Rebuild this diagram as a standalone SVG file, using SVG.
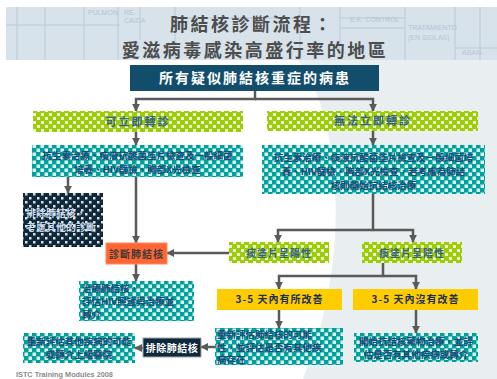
<svg xmlns="http://www.w3.org/2000/svg" width="497" height="379" viewBox="0 0 497 379">
<defs>
<style>
.cjk{font-family:"Noto Sans CJK TC","Noto Sans CJK SC",sans-serif;}
.title{font-size:18px;font-weight:bold;fill:#4d4d4d;letter-spacing:2.5px;text-anchor:middle;}
.box-t{font-size:9.5px;fill:#1d4a78;font-weight:bold;}
.grn-t{font-size:11px;fill:#35628c;font-weight:bold;letter-spacing:2px;text-anchor:middle;}
.yel-t{font-size:10px;fill:#1a2e5a;font-weight:bold;letter-spacing:1px;text-anchor:middle;}
.conn{fill:none;stroke:#5a5a5a;stroke-width:2.5;marker-end:url(#arr);}
.grid{stroke:#b9cadb;stroke-width:1;fill:none;}
.bgtxt{font-family:"Liberation Sans",sans-serif;font-size:7px;fill:#b3c4d4;}
</style>
<marker id="arr" viewBox="0 0 10 10" refX="9" refY="5" markerWidth="3.2" markerHeight="3.2" orient="auto">
<path d="M0,0 L10,5 L0,10 Z" fill="#5a5a5a"/>
</marker>
<pattern id="pTeal" width="8" height="8" patternUnits="userSpaceOnUse">
<rect width="8" height="8" fill="#00a09c"/>
<rect x="0.5" y="0.5" width="3.5" height="3.5" fill="#ffffff" opacity="0.85"/>
<rect x="4.5" y="4.5" width="3.5" height="3.5" fill="#ffffff" opacity="0.85"/>
</pattern>
<pattern id="pGreen" width="8" height="8" patternUnits="userSpaceOnUse">
<rect width="8" height="8" fill="#9ccc0a"/>
<rect x="1" y="1" width="3" height="3" fill="#ffffff" opacity="0.8"/>
<rect x="5" y="5" width="3" height="3" fill="#ffffff" opacity="0.8"/>
</pattern>
<pattern id="pDark" width="8" height="8" patternUnits="userSpaceOnUse">
<rect width="8" height="8" fill="#10293a"/>
<rect x="1" y="1" width="2.5" height="2.5" fill="#ffffff" opacity="0.85"/>
<rect x="5" y="5" width="2.5" height="2.5" fill="#ffffff" opacity="0.85"/>
</pattern>
</defs>

<!-- background -->
<rect width="497" height="379" fill="#ffffff"/>
<path d="M298,60 C338,110 356,250 303,379 L497,379 L497,60 Z" fill="#e9eef0"/>

<!-- title band -->
<g id="title-band">
<rect x="6" y="7" width="491" height="53" fill="#d7e2eb"/>
<path class="grid" d="M17,7 V60 M45,7 V60 M84,7 V60 M118,7 V60 M140,7 V40 M175,7 V60 M300,7 V60 M340,7 V60 M405,7 V60 M455,7 V60 M480,7 V60 M6,25 H120 M175,18 H300 M340,28 H405 M340,18 H405 M455,48 H497"/>
<text class="bgtxt" x="88" y="15">PULMON</text>
<text class="bgtxt" x="124" y="15">RE-</text>
<text class="bgtxt" x="124" y="23">CAIDA</text>
<text class="bgtxt" x="350" y="22">E.K. CONTROL</text>
<text class="bgtxt" x="408" y="30">TRATAMIENTO</text>
<text class="bgtxt" x="408" y="40">(EN SIGLAS)</text>
<text class="bgtxt" x="462" y="55">ABAN-</text>
<text class="title cjk" x="252" y="31">肺結核診斷流程：</text>
<text class="title cjk" x="255" y="57">愛滋病毒感染高盛行率的地區</text>
</g>

<!-- connectors -->
<g id="connectors">
<path class="conn" d="M255,91 V99 H136 V111"/>
<path class="conn" d="M255,99 H373 V111"/>
<path class="conn" d="M136,132 V145"/>
<path class="conn" d="M373,131 V145"/>
<path class="conn" d="M68,177 V193"/>
<path class="conn" d="M136,177 V243"/>
<path class="conn" d="M373,194 V230 H278 V242"/>
<path class="conn" d="M373,230 H413 V242"/>
<path class="conn" d="M229,253 H167"/>
<path class="conn" d="M136,264 V281"/>
<path class="conn" d="M383,263 V276 H279 V289"/>
<path class="conn" d="M383,276 H416 V289"/>
<path class="conn" d="M279,310 V328"/>
<path class="conn" d="M416,310 V333"/>
<path class="conn" d="M215,347 H201"/>
<path class="conn" d="M143,348 H135"/>
</g>

<!-- nodes -->
<g id="n-all">
<rect x="130" y="65" width="249" height="26" fill="#134d6c"/>
<text class="cjk" x="255" y="83" font-size="14" font-weight="bold" fill="#ffffff" letter-spacing="2" text-anchor="middle">所有疑似肺結核重症的病患</text>
</g>

<g id="n-refer">
<rect x="33" y="111" width="210" height="21" fill="url(#pGreen)"/>
<text class="grn-t cjk" x="138" y="126">可立即轉診</text>
</g>

<g id="n-norefer">
<rect x="267" y="111" width="211" height="20" fill="url(#pGreen)"/>
<text class="grn-t cjk" x="373" y="125">無法立即轉診</text>
</g>

<g id="n-left-tests">
<rect x="32" y="145" width="211" height="32" fill="url(#pTeal)"/>
<text class="box-t cjk" x="137.5" y="159" text-anchor="middle">抗生素治療、痰液抗酸菌塗片檢查及一般細菌</text>
<text class="box-t cjk" x="137.5" y="173" text-anchor="middle">培養、HIV篩檢、胸部X光檢查</text>
</g>

<g id="n-right-tests">
<rect x="262" y="145" width="223" height="49" fill="url(#pTeal)"/>
<text class="box-t cjk" x="373.5" y="161" text-anchor="middle">抗生素治療、痰液抗酸菌塗片檢查及一般細菌培</text>
<text class="box-t cjk" x="373.5" y="175" text-anchor="middle">養、HIV篩檢、胸部X光檢查，若考慮為肺結</text>
<text class="box-t cjk" x="373.5" y="189" text-anchor="middle">核則開始抗結核治療</text>
</g>

<g id="n-exclude-other">
<rect x="23" y="193" width="80" height="54" fill="url(#pDark)"/>
<text class="cjk" x="26" y="217" font-size="10" font-weight="bold" fill="#c9d9e8">排除肺結核，</text>
<text class="cjk" x="26" y="231" font-size="10" font-weight="bold" fill="#c9d9e8">考慮其他的診斷</text>
</g>

<g id="n-diagnose">
<rect x="106" y="243" width="61" height="21" fill="#ff6633" stroke="#ff8a5c" stroke-width="1"/>
<text class="cjk" x="136.5" y="258" font-size="10" font-weight="bold" fill="#3a3a3a" letter-spacing="1" text-anchor="middle">診斷肺結核</text>
</g>

<g id="n-smear-pos">
<rect x="229" y="242" width="100" height="21" fill="url(#pGreen)"/>
<text class="cjk" x="279" y="257" font-size="10" font-weight="bold" fill="#35628c" letter-spacing="1" text-anchor="middle">痰塗片呈陽性</text>
</g>

<g id="n-smear-neg">
<rect x="362" y="242" width="100" height="21" fill="url(#pGreen)"/>
<text class="cjk" x="412" y="257" font-size="10" font-weight="bold" fill="#35628c" letter-spacing="1" text-anchor="middle">痰塗片呈陰性</text>
</g>

<g id="n-treat">
<rect x="79" y="281" width="115" height="40" fill="url(#pTeal)"/>
<text class="box-t cjk" x="82" y="292">治療肺結核，</text>
<text class="box-t cjk" x="82" y="305">評估HIV照護與治療並</text>
<text class="box-t cjk" x="82" y="318">轉介</text>
</g>

<g id="n-improve">
<rect x="217" y="289" width="125" height="21" fill="#ffcc00"/>
<text class="yel-t cjk" x="279.5" y="303">3-5 天內有所改善</text>
</g>

<g id="n-noimprove">
<rect x="353" y="289" width="125" height="21" fill="#ffcc00"/>
<text class="yel-t cjk" x="415.5" y="303">3-5 天內沒有改善</text>
</g>

<g id="n-reassess">
<rect x="215" y="328" width="128" height="37" fill="url(#pTeal)"/>
<text class="box-t cjk" x="217" y="338" font-size="9">重新評估肺結核的可能</text>
<text class="box-t cjk" x="217" y="350.5" font-size="9">性，並評估是否有其他疾</text>
<text class="box-t cjk" x="217" y="363" font-size="9">病存在</text>
</g>

<g id="n-start-tb">
<rect x="354" y="333" width="124" height="29" fill="url(#pTeal)"/>
<text class="box-t cjk" x="416" y="345" text-anchor="middle">開始抗結核藥物治療，並評</text>
<text class="box-t cjk" x="416" y="358" text-anchor="middle">估是否有其他疾病或轉介</text>
</g>

<g id="n-exclude">
<rect x="143" y="338" width="58" height="19" fill="#10293a" stroke="#9aa5ad" stroke-width="1"/>
<text class="cjk" x="172" y="352" font-size="10" font-weight="bold" fill="#ffffff" letter-spacing="0.5" text-anchor="middle">排除肺結核</text>
</g>

<g id="n-other-dx">
<rect x="23" y="333" width="112" height="30" fill="url(#pTeal)"/>
<text class="box-t cjk" x="79" y="345" text-anchor="middle">重新評估其他疾病的可能</text>
<text class="box-t cjk" x="79" y="358" text-anchor="middle">或轉介上級醫院</text>
</g>

<text x="16" y="377" font-family="Liberation Sans, Arial, sans-serif" font-size="7.3" font-weight="bold" fill="#8c8c8c">ISTC Training Modules 2008</text>
</svg>
